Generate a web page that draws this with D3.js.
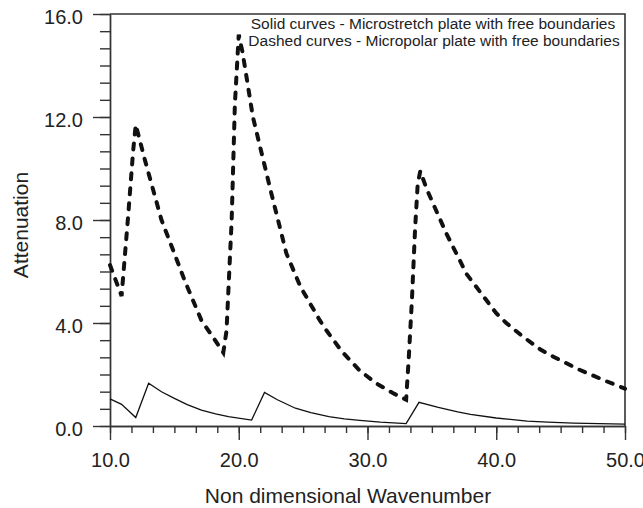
<!DOCTYPE html>
<html>
<head>
<meta charset="utf-8">
<script src="https://cdn.jsdelivr.net/npm/d3@7"></script>
<style>
  body { margin: 0; background: #fff; }
  svg { font-family: "Liberation Sans", Arial, Helvetica, sans-serif; }
  .axis text { font-size: 20px; fill: #222; }
  .axis path, .axis line { stroke: #333; stroke-width: 1.4; }
  .title { font-size: 21px; fill: #222; }
  .note { font-size: 15.5px; fill: #222; }
</style>
</head>
<body>
<svg width="643" height="508"></svg>
<script>
  // tick labels
  const xTicks = [10, 20, 30, 40, 50];
  const yTicks = [0, 4, 8, 12, 16];

  // solid curve - microstretch plate with free boundaries
  const solidK = [10, 10.9, 12, 13, 14, 15, 16, 17.1, 18.2, 19.2, 21, 22, 23, 24.4, 25.6, 27, 28.2, 29.4, 31, 33, 34, 35.5, 37, 38, 40, 42.4, 44, 46, 48, 50];
  const solidA = [1.05, 0.84, 0.33, 1.66, 1.33, 1.07, 0.83, 0.62, 0.47, 0.36, 0.23, 1.3, 1.02, 0.69, 0.52, 0.36, 0.28, 0.22, 0.15, 0.09, 0.92, 0.72, 0.55, 0.45, 0.31, 0.19, 0.15, 0.11, 0.09, 0.07];

  // dashed curve - micropolar plate with free boundaries
  const dashK = [10, 10.9, 11.4, 11.8, 12, 12.7, 14, 15, 15.8, 17.1, 18, 18.8, 19.05, 19.45, 19.7, 20, 20.3, 21.1, 22.45, 23.7, 24.8, 26.3, 26.8, 28, 29.4, 30.7, 32, 33, 33.2, 33.45, 33.7, 33.9, 34.1, 34.6, 36.1, 37.7, 40, 40.8, 42, 43.4, 44.4, 46.4, 48.3, 50];
  const dashA = [6.25, 5.05, 8.1, 10.7, 11.7, 10.35, 8.0, 6.7, 5.65, 4.1, 3.45, 2.85, 3.7, 8.0, 12.5, 15.2, 14.5, 12.0, 9.2, 6.7, 5.4, 4.1, 3.72, 2.9, 2.15, 1.65, 1.27, 1.02, 2.6, 4.9, 7.7, 9.4, 9.9, 9.2, 7.5, 5.9, 4.38, 3.99, 3.5, 2.98, 2.7, 2.2, 1.79, 1.45];

  const svg = d3.select('svg');
  const plotL = 110, plotR = 625, plotT = 14, plotB = 426;

  const xScale = d3.scaleLinear().domain([10, 50]).range([plotL, plotR]);
  const yScale = d3.scaleLinear().domain([0, 16]).range([plotB, plotT]);

  const fmt = d3.format('.1f');

  // minor ticks (6 per major step)
  const xMinor = d3.range(0, 25).map(i => 10 + i * 10 / 6);
  const yMinor = d3.range(0, 25).map(i => i * 4 / 6);

  svg.append('g')
      .attr('class', 'axis')
      .attr('transform', `translate(0,${plotB})`)
      .call(d3.axisBottom(xScale).tickValues(xMinor).tickSize(7).tickSizeOuter(0).tickFormat(''));

  svg.append('g')
      .attr('class', 'axis')
      .attr('transform', `translate(${plotL},0)`)
      .call(d3.axisLeft(yScale).tickValues(yMinor).tickSize(10).tickSizeOuter(0).tickFormat(''));

  svg.append('g')
      .attr('class', 'axis')
      .attr('transform', `translate(0,${plotB})`)
      .call(d3.axisBottom(xScale).tickValues(xTicks).tickSize(14).tickSizeOuter(0).tickPadding(13).tickFormat(fmt));

  svg.append('g')
      .attr('class', 'axis')
      .attr('transform', `translate(${plotL},0)`)
      .call(d3.axisLeft(yScale).tickValues(yTicks).tickSize(17).tickSizeOuter(0).tickPadding(10).tickFormat(fmt))
      .selectAll('text').attr('dy', '0.47em');

  // top and right frame
  svg.append('path')
      .attr('d', `M${plotL},${plotT}H${plotR}V${plotB}`)
      .attr('fill', 'none')
      .attr('stroke', '#333')
      .attr('stroke-width', 1.6);

  const line = d3.line()
      .x(d => xScale(d[0]))
      .y(d => yScale(d[1]));

  svg.append('path')
      .datum(d3.zip(solidK, solidA))
      .attr('d', line)
      .attr('fill', 'none')
      .attr('stroke', '#111')
      .attr('stroke-width', 1.3);

  svg.append('path')
      .datum(d3.zip(dashK, dashA))
      .attr('d', line)
      .attr('fill', 'none')
      .attr('stroke', '#111')
      .attr('stroke-width', 4)
      .attr('stroke-linecap', 'round')
      .attr('stroke-dasharray', '6,9');

  // legend notes
  svg.append('text')
      .attr('class', 'note')
      .attr('x', 433).attr('y', 29)
      .attr('text-anchor', 'middle')
      .text('Solid curves - Microstretch plate with free boundaries');
  svg.append('text')
      .attr('class', 'note')
      .attr('x', 434).attr('y', 45.5)
      .attr('text-anchor', 'middle')
      .text('Dashed curves - Micropolar plate with free boundaries');

  // axis titles
  svg.append('text')
      .attr('class', 'title')
      .attr('x', 348).attr('y', 503)
      .attr('text-anchor', 'middle')
      .text('Non dimensional Wavenumber');
  svg.append('text')
      .attr('class', 'title')
      .attr('transform', 'translate(28,225) rotate(-90)')
      .attr('text-anchor', 'middle')
      .text('Attenuation');
</script>
</body>
</html>
